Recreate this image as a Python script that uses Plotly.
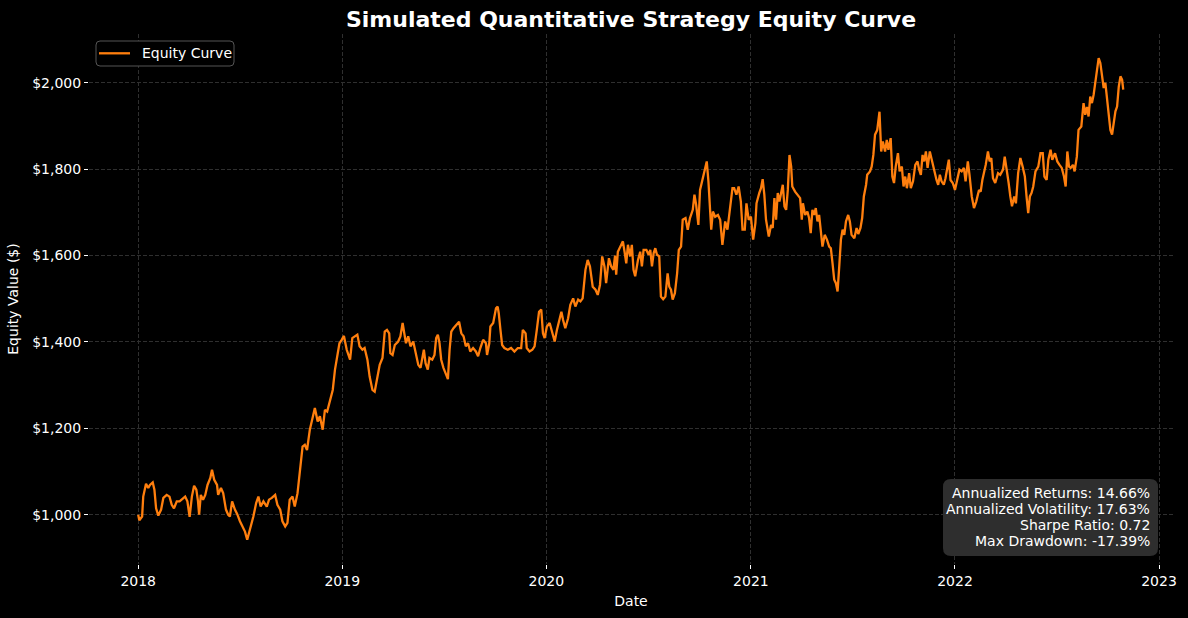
import plotly.graph_objects as go
import pandas as pd

# ---- data (days since 2018-01-01, equity in $) ----
day_2018 = [0, 2, 7, 9, 14, 18, 21, 26, 29, 32, 36, 41, 45, 51, 56, 60, 64, 69, 74, 78,
            84, 88, 92, 96, 100, 104, 107, 109, 112, 116, 120, 124, 129, 132, 136, 141, 143, 148, 152, 157,
            161, 164, 168, 173, 177, 182, 187, 191, 195, 199, 203, 206, 211, 215, 219, 224, 230, 234, 239, 245,
            249, 254, 258, 263, 267, 271, 276, 280, 285, 289, 294, 298, 302, 307, 312, 316, 321, 325, 330, 334,
            338, 343, 348, 352, 356, 360, 364]
equity_2018 = [1000, 987, 996, 1042, 1072, 1062, 1069, 1075, 1058, 1015, 998, 1012, 1039, 1046, 1042, 1023, 1015, 1031, 1031, 1036,
               1042, 1031, 995, 1042, 1067, 1058, 1031, 1000, 1046, 1035, 1046, 1069, 1085, 1104, 1081, 1069, 1046, 1062, 1050, 1012,
               1000, 996, 1031, 1012, 1002, 985, 973, 961, 942, 961, 981, 996, 1027, 1042, 1019, 1031, 1019, 1035, 1039, 1046,
               1023, 1012, 985, 973, 981, 1035, 1042, 1019, 1050, 1097, 1158, 1162, 1150, 1197, 1228, 1247, 1216, 1228, 1197, 1243,
               1239, 1262, 1289, 1336, 1370, 1397, 1405]

day_2019 = [368, 373, 379, 383, 388, 392, 396, 401, 405, 410, 414, 419, 423, 428, 432, 437, 441, 445, 449, 451,
            455, 459, 465, 469, 473, 476, 479, 483, 487, 492, 497, 501, 505, 508, 511, 514, 518, 521, 526, 530,
            533, 536, 539, 542, 546, 551, 554, 557, 560, 564, 569, 574, 578, 582, 586, 590, 594, 599, 604, 608,
            612, 617, 622, 624, 628, 630, 635, 640, 643, 645, 648, 651, 655, 661, 667, 673, 679, 685, 688, 693,
            695, 700, 705, 709, 713, 717, 721, 724, 727]
equity_2019 = [1414, 1382, 1359, 1409, 1413, 1417, 1390, 1382, 1386, 1359, 1320, 1289, 1285, 1320, 1347, 1363, 1424, 1428, 1420, 1374,
               1370, 1393, 1401, 1413, 1444, 1420, 1397, 1413, 1390, 1401, 1374, 1347, 1340, 1367, 1382, 1351, 1336, 1363, 1359, 1370,
               1409, 1417, 1397, 1359, 1340, 1324, 1314, 1382, 1424, 1432, 1440, 1447, 1420, 1413, 1390, 1397, 1378, 1386, 1378, 1367,
               1386, 1405, 1397, 1370, 1397, 1436, 1444, 1478, 1482, 1466, 1428, 1393, 1386, 1382, 1386, 1378, 1386, 1386, 1428, 1420,
               1386, 1378, 1382, 1390, 1428, 1470, 1475, 1420, 1409]

day_2020 = [731, 736, 741, 745, 749, 754, 757, 760, 764, 769, 773, 778, 782, 787, 791, 795, 800, 804, 808, 813,
            818, 822, 826, 830, 834, 837, 842, 846, 850, 853, 855, 858, 862, 867, 870, 873, 876, 880, 883, 886,
            889, 894, 898, 901, 904, 909, 913, 916, 919, 922, 925, 928, 932, 935, 939, 943, 947, 950, 953, 956,
            960, 964, 967, 971, 974, 979, 983, 987, 992, 995, 998, 1002, 1005, 1009, 1013, 1017, 1020, 1025, 1028, 1032,
            1037, 1041, 1045, 1050, 1054, 1058, 1063, 1066, 1070, 1074, 1078, 1081, 1085, 1088, 1092]
equity_2020 = [1436, 1444, 1417, 1401, 1428, 1455, 1470, 1451, 1432, 1455, 1486, 1501, 1482, 1498, 1494, 1501, 1567, 1590, 1575, 1528,
               1521, 1509, 1532, 1598, 1575, 1536, 1594, 1575, 1567, 1600, 1556, 1609, 1621, 1633, 1609, 1582, 1625, 1598, 1625, 1567,
               1552, 1590, 1609, 1575, 1613, 1613, 1602, 1613, 1575, 1606, 1617, 1602, 1598, 1505, 1499, 1505, 1559, 1528, 1521, 1498,
               1513, 1559, 1613, 1621, 1683, 1687, 1660, 1687, 1706, 1741, 1718, 1671, 1752, 1775, 1791, 1818, 1772, 1660, 1702, 1690,
               1694, 1683, 1625, 1679, 1660, 1700, 1756, 1756, 1741, 1760, 1725, 1660, 1660, 1721, 1683]

day_2021 = [1096, 1100, 1104, 1106, 1111, 1114, 1117, 1120, 1123, 1128, 1132, 1135, 1138, 1141, 1144, 1147, 1150, 1153, 1156, 1159,
            1162, 1165, 1168, 1170, 1175, 1179, 1184, 1187, 1189, 1193, 1197, 1200, 1203, 1206, 1209, 1212, 1215, 1218, 1221, 1224,
            1228, 1232, 1236, 1239, 1242, 1245, 1248, 1251, 1254, 1257, 1260, 1263, 1266, 1270, 1273, 1276, 1281, 1285, 1288, 1292,
            1295, 1298, 1302, 1304, 1309, 1312, 1315, 1318, 1322, 1326, 1329, 1332, 1336, 1339, 1342, 1346, 1349, 1352, 1355, 1359,
            1362, 1366, 1369, 1372, 1375, 1379, 1382, 1386, 1390, 1394, 1397, 1400, 1403, 1406, 1409, 1412, 1416, 1420, 1424, 1428,
            1431, 1434, 1437, 1441, 1444, 1447, 1450, 1453, 1457]
equity_2021 = [1690, 1637, 1675, 1721, 1745, 1756, 1777, 1741, 1683, 1644, 1671, 1664, 1733, 1683, 1745, 1725, 1745, 1764, 1714, 1706,
               1752, 1833, 1806, 1760, 1748, 1741, 1733, 1683, 1721, 1694, 1702, 1687, 1652, 1706, 1694, 1710, 1679, 1694, 1664, 1621,
               1648, 1637, 1621, 1617, 1582, 1544, 1536, 1517, 1575, 1637, 1660, 1648, 1679, 1694, 1679, 1648, 1640, 1664, 1650, 1664,
               1687, 1737, 1764, 1787, 1795, 1806, 1833, 1880, 1891, 1933, 1841, 1864, 1841, 1868, 1845, 1872, 1783, 1768, 1806, 1837,
               1795, 1806, 1760, 1783, 1756, 1791, 1756, 1772, 1810, 1818, 1799, 1787, 1833, 1818, 1841, 1803, 1841, 1818, 1795, 1775,
               1764, 1787, 1772, 1764, 1779, 1803, 1822, 1775, 1768]

day_2022 = [1461, 1465, 1469, 1473, 1477, 1480, 1484, 1487, 1491, 1495, 1499, 1504, 1507, 1510, 1513, 1516, 1520, 1523, 1526, 1529,
            1533, 1538, 1542, 1547, 1550, 1553, 1557, 1560, 1563, 1567, 1570, 1574, 1578, 1582, 1586, 1589, 1592, 1595, 1598, 1601,
            1605, 1610, 1614, 1618, 1621, 1625, 1628, 1632, 1635, 1640, 1644, 1648, 1652, 1656, 1659, 1662, 1665, 1668, 1672, 1675,
            1679, 1682, 1687, 1691, 1694, 1697, 1700, 1703, 1706, 1709, 1712, 1715, 1718, 1721, 1724, 1727, 1730, 1733, 1736, 1739,
            1742, 1745, 1748, 1751, 1754, 1757, 1760, 1762]
equity_2022 = [1752, 1779, 1799, 1795, 1803, 1772, 1818, 1787, 1737, 1710, 1725, 1752, 1748, 1775, 1790, 1810, 1841, 1818, 1826, 1779,
               1768, 1791, 1787, 1799, 1829, 1806, 1768, 1737, 1714, 1737, 1721, 1791, 1826, 1806, 1783, 1737, 1698, 1737, 1745, 1760,
               1795, 1806, 1837, 1837, 1783, 1775, 1822, 1845, 1822, 1837, 1818, 1810, 1803, 1783, 1760, 1841, 1806, 1803, 1810, 1795,
               1829, 1891, 1899, 1953, 1926, 1944, 1922, 1968, 1953, 1972, 2000, 2030, 2057, 2046, 2015, 1988, 2000, 1961, 1914, 1891,
               1880, 1907, 1934, 1945, 1991, 2015, 2007, 1984]

series_name = "Equity Curve"
stats_labels = ["Annualized Returns", "Annualized Volatility", "Sharpe Ratio", "Max Drawdown"]
stats_values = ["14.66%", "17.63%", "0.72", "-17.39%"]

year_ticks = ["2018-01-01", "2019-01-01", "2020-01-01", "2021-01-01", "2022-01-01", "2023-01-01"]
year_labels = ["2018", "2019", "2020", "2021", "2022", "2023"]

days = day_2018 + day_2019 + day_2020 + day_2021 + day_2022
equity = equity_2018 + equity_2019 + equity_2020 + equity_2021 + equity_2022
assert len(days) == len(equity)
dates = pd.Timestamp("2018-01-01") + pd.to_timedelta(days, unit="D")

FONT = "DejaVu Sans"
LINE_COLOR = "#ff7f0e"
W, H = 1188, 618
ML, MR, MT, MB = 89, 15, 34, 54
PW, PH = W - ML - MR, H - MT - MB


def px2paper(px, py):
    return (px - ML) / PW, (H - MB - py) / PH


def rounded_rect(x0px, y0px, x1px, y1px, r):
    bx0, by1 = px2paper(x0px, y0px)
    bx1, by0 = px2paper(x1px, y1px)
    rx, ry = r / PW, r / PH
    return (f"M {bx0+rx},{by0} L {bx1-rx},{by0} Q {bx1},{by0} {bx1},{by0+ry} "
            f"L {bx1},{by1-ry} Q {bx1},{by1} {bx1-rx},{by1} L {bx0+rx},{by1} "
            f"Q {bx0},{by1} {bx0},{by1-ry} L {bx0},{by0+ry} Q {bx0},{by0} {bx0+rx},{by0} Z")


fig = go.Figure()
fig.add_trace(go.Scatter(
    x=dates, y=equity, mode="lines", name=series_name,
    line=dict(color=LINE_COLOR, width=2.3), showlegend=False,
))

axis_common = dict(
    showgrid=True, gridcolor="#2f2f2f", gridwidth=1, griddash="4px,2px",
    zeroline=False, showline=False, automargin=False,
    ticks="outside", ticklen=4, tickwidth=1, tickcolor="#ffffff",
    tickfont=dict(family=FONT, size=14, color="#ffffff"),
)

fig.update_layout(
    width=W, height=H,
    margin=dict(l=ML, r=MR, t=MT, b=MB, autoexpand=False),
    paper_bgcolor="#000000", plot_bgcolor="#000000",
    font=dict(family=FONT, color="#ffffff", size=14),
    title=dict(
        text="<b>Simulated Quantitative Strategy Equity Curve</b>",
        font=dict(family=FONT, size=22, color="#ffffff"),
        x=(ML + PW / 2) / W, xanchor="center",
        y=1 - 19 / H, yanchor="middle", yref="container",
    ),
    xaxis=dict(
        axis_common,
        range=["2017-10-05", "2023-01-26"],
        tickvals=year_ticks, ticktext=year_labels,
        title=dict(text="Date", font=dict(family=FONT, size=14, color="#ffffff"), standoff=8),
    ),
    yaxis=dict(
        axis_common,
        range=[886, 2113],
        tick0=1000, dtick=200, tickprefix="$", tickformat=",.0f",
        title=dict(text="Equity Value ($)", font=dict(family=FONT, size=14, color="#ffffff"), standoff=10),
    ),
    showlegend=False,
)

# legend box (drawn manually to match the compact rounded matplotlib legend)
fig.add_shape(type="path", path=rounded_rect(96, 41, 234, 66, 4), xref="paper", yref="paper",
              fillcolor="#000000", line=dict(color="#555555", width=1), layer="above")
lx0, ly = px2paper(99, 53.3)
lx1, _ = px2paper(130, 53.3)
fig.add_shape(type="line", x0=lx0, x1=lx1, y0=ly, y1=ly, xref="paper", yref="paper",
              line=dict(color=LINE_COLOR, width=2.3), layer="above")
tx, ty = px2paper(139.5, 53.3)
fig.add_annotation(text=series_name, x=tx, y=ty, xref="paper", yref="paper",
                   xanchor="left", yanchor="middle", showarrow=False,
                   font=dict(family=FONT, size=14, color="#ffffff"))

# rounded stats box
fig.add_shape(type="path", path=rounded_rect(943, 479, 1158, 556, 8), xref="paper", yref="paper",
              fillcolor="#2e2e2e", line=dict(width=0), layer="above")

line_y = [492.7, 508.5, 525, 541]
for lab, val, py in zip(stats_labels, stats_values, line_y):
    ax, ay = px2paper(1152, py)
    fig.add_annotation(
        text=f"{lab}: {val}", x=ax, y=ay, xref="paper", yref="paper",
        xanchor="right", yanchor="middle", showarrow=False,
        font=dict(family=FONT, size=14, color="#ffffff"),
    )

fig.write_html("out.html")
